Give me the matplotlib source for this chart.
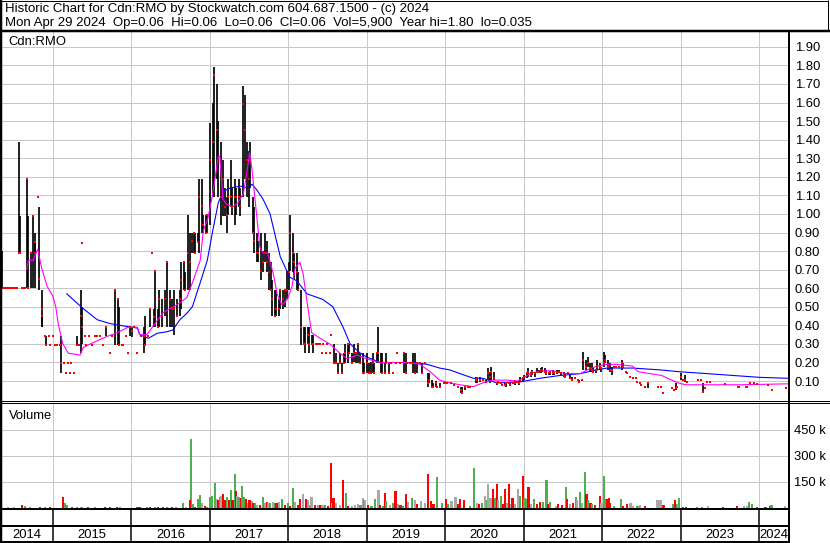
import matplotlib
matplotlib.use('Agg')
from matplotlib import pyplot as plt

plt.rcParams['font.family'] = ['Liberation Sans', 'DejaVu Sans']

# daily bars (decimal year, high, low, close), one line per year
price_t = [
    2014.36, 2014.40, 2014.45, 2014.50, 2014.57, 2014.59, 2014.63, 2014.67, 2014.69, 2014.72, 2014.75, 2014.77, 2014.78, 2014.81, 2014.83, 2014.86, 2014.87, 2014.90, 2014.92, 2014.95, 2014.97, 2014.38, 2014.43, 2014.47, 2014.52, 2014.54, 2014.61, 2014.65,
    2015.00, 2015.03, 2015.06, 2015.09, 2015.11, 2015.14, 2015.17, 2015.19, 2015.22, 2015.24, 2015.27, 2015.31, 2015.34, 2015.36, 2015.37, 2015.38, 2015.41, 2015.43, 2015.46, 2015.50, 2015.54, 2015.57, 2015.60, 2015.64, 2015.68, 2015.73, 2015.76, 2015.80, 2015.83, 2015.85, 2015.88, 2015.90, 2015.93, 2015.96, 2015.98,
    2016.01, 2016.04, 2016.08, 2016.12, 2016.16, 2016.18, 2016.21, 2016.24, 2016.26, 2016.29, 2016.31, 2016.34, 2016.36, 2016.39, 2016.43, 2016.46, 2016.49, 2016.52, 2016.55, 2016.59, 2016.62, 2016.64, 2016.67, 2016.69, 2016.72, 2016.75, 2016.77, 2016.80, 2016.82, 2016.85, 2016.87, 2016.90, 2016.92, 2016.95, 2016.97,
    2017.01, 2017.04, 2017.06, 2017.09, 2017.11, 2017.14, 2017.17, 2017.19, 2017.22, 2017.24, 2017.27, 2017.29, 2017.32, 2017.34, 2017.37, 2017.39, 2017.42, 2017.45, 2017.47, 2017.50, 2017.52, 2017.55, 2017.57, 2017.60, 2017.62, 2017.65, 2017.68, 2017.70, 2017.73, 2017.75, 2017.78, 2017.80, 2017.83, 2017.85, 2017.88, 2017.90, 2017.93, 2017.96, 2017.98,
    2018.01, 2018.03, 2018.06, 2018.08, 2018.11, 2018.13, 2018.17, 2018.20, 2018.22, 2018.25, 2018.27, 2018.30, 2018.32, 2018.35, 2018.38, 2018.40, 2018.43, 2018.45, 2018.48, 2018.50, 2018.53, 2018.55, 2018.58, 2018.61, 2018.63, 2018.66, 2018.68, 2018.71, 2018.73, 2018.76, 2018.78, 2018.81, 2018.84, 2018.86, 2018.89, 2018.91, 2018.95, 2018.97,
    2019.00, 2019.03, 2019.05, 2019.08, 2019.10, 2019.13, 2019.15, 2019.18, 2019.20, 2019.23, 2019.25, 2019.28, 2019.31, 2019.33, 2019.37, 2019.39, 2019.43, 2019.47, 2019.50, 2019.52, 2019.55, 2019.59, 2019.61, 2019.64, 2019.68, 2019.71, 2019.74, 2019.78, 2019.80, 2019.83, 2019.85, 2019.88, 2019.90, 2019.94, 2019.98,
    2020.01, 2020.03, 2020.07, 2020.11, 2020.16, 2020.20, 2020.22, 2020.25, 2020.29, 2020.32, 2020.39, 2020.41, 2020.44, 2020.48, 2020.52, 2020.54, 2020.57, 2020.59, 2020.62, 2020.66, 2020.68, 2020.71, 2020.73, 2020.76, 2020.78, 2020.81, 2020.83, 2020.86, 2020.89, 2020.91, 2020.94, 2020.96, 2020.99,
    2021.01, 2021.04, 2021.06, 2021.09, 2021.11, 2021.14, 2021.17, 2021.19, 2021.22, 2021.24, 2021.27, 2021.29, 2021.32, 2021.34, 2021.37, 2021.39, 2021.42, 2021.45, 2021.47, 2021.51, 2021.53, 2021.56, 2021.59, 2021.61, 2021.65, 2021.69, 2021.71, 2021.74, 2021.76, 2021.79, 2021.82, 2021.84, 2021.87, 2021.89, 2021.92, 2021.94, 2021.97, 2021.99,
    2022.02, 2022.04, 2022.07, 2022.10, 2022.12, 2022.15, 2022.18, 2022.22, 2022.25, 2022.27, 2022.30, 2022.32, 2022.35, 2022.39, 2022.43, 2022.45, 2022.48, 2022.50, 2022.54, 2022.59, 2022.71, 2022.75, 2022.77, 2022.89, 2022.91, 2022.94, 2022.96, 2023.00, 2023.03, 2023.05, 2023.08, 2023.22, 2023.26, 2023.28, 2023.31, 2023.34, 2023.37, 2023.56, 2023.73, 2023.75, 2023.83, 2023.85, 2023.89, 2023.93, 2023.97, 2024.11, 2024.16, 2024.34,
]
price_hi = [
    0.80, 0.60, 0.60, 0.60, 1.39, 0.99, 0.60, 1.19, 0.99, 0.79, 0.99, 0.85, 0.90, 1.09, 1.04, 0.59, 0.45, 0.345, 0.345, 0.345, 0.295, 0.60, 0.60, 0.60, 0.60, 0.60, 0.60, 0.60,
    0.345, 0.295, 0.295, 0.295, 0.345, 0.195, 0.145, 0.195, 0.145, 0.195, 0.145, 0.345, 0.295, 0.59, 0.50, 0.845, 0.345, 0.295, 0.345, 0.295, 0.345, 0.345, 0.345, 0.295, 0.39, 0.25, 0.345, 0.59, 0.54, 0.50, 0.295, 0.295, 0.345, 0.25, 0.39,
    0.39, 0.39, 0.25, 0.345, 0.39, 0.45, 0.345, 0.49, 0.79, 0.49, 0.695, 0.49, 0.59, 0.54, 0.59, 0.743, 0.59, 0.54, 0.59, 0.54, 0.59, 0.743, 0.743, 0.69, 0.995, 0.90, 0.90, 0.90, 0.90, 0.90, 1.19, 1.19, 0.995, 0.995, 0.995,
    1.49, 1.60, 1.79, 1.70, 1.50, 1.39, 1.29, 1.14, 1.09, 1.19, 1.29, 1.14, 1.19, 1.14, 1.19, 1.14, 1.69, 1.64, 1.39, 1.34, 1.39, 1.09, 1.04, 0.90, 0.855, 0.90, 0.80, 0.90, 0.855, 0.79, 0.74, 0.645, 0.59, 0.59, 0.54, 0.59, 0.59, 0.59, 0.695,
    0.74, 0.995, 0.90, 0.79, 0.79, 0.69, 0.59, 0.39, 0.39, 0.39, 0.39, 0.35, 0.35, 0.30, 0.30, 0.30, 0.25, 0.30, 0.25, 0.30, 0.25, 0.35, 0.30, 0.25, 0.195, 0.25, 0.195, 0.25, 0.30, 0.30, 0.30, 0.25, 0.30, 0.25, 0.30, 0.25, 0.25, 0.195,
    0.25, 0.195, 0.20, 0.25, 0.195, 0.25, 0.393, 0.25, 0.25, 0.195, 0.25, 0.195, 0.195, 0.145, 0.195, 0.25, 0.195, 0.25, 0.25, 0.195, 0.195, 0.25, 0.25, 0.195, 0.195, 0.195, 0.195, 0.145, 0.145, 0.106, 0.088, 0.10, 0.07, 0.088, 0.088,
    0.088, 0.088, 0.088, 0.079, 0.07, 0.07, 0.07, 0.07, 0.07, 0.07, 0.123, 0.115, 0.123, 0.106, 0.106, 0.168, 0.15, 0.177, 0.15, 0.097, 0.097, 0.088, 0.079, 0.097, 0.097, 0.088, 0.097, 0.088, 0.106, 0.097, 0.10, 0.123, 0.123,
    0.132, 0.15, 0.168, 0.15, 0.16, 0.15, 0.168, 0.16, 0.168, 0.177, 0.168, 0.16, 0.15, 0.15, 0.16, 0.15, 0.16, 0.16, 0.15, 0.15, 0.141, 0.141, 0.132, 0.123, 0.115, 0.106, 0.106, 0.106, 0.258, 0.213, 0.23, 0.195, 0.195, 0.177, 0.16, 0.213, 0.195, 0.177,
    0.258, 0.24, 0.213, 0.195, 0.177, 0.177, 0.177, 0.177, 0.213, 0.195, 0.15, 0.141, 0.123, 0.115, 0.115, 0.097, 0.088, 0.079, 0.07, 0.088, 0.07, 0.07, 0.034, 0.06, 0.052, 0.088, 0.07, 0.141, 0.106, 0.132, 0.097, 0.106, 0.106, 0.088, 0.06, 0.097, 0.097, 0.085, 0.07, 0.07, 0.07, 0.07, 0.088, 0.088, 0.083, 0.079, 0.052, 0.06,
]
price_lo = [
    0.60, 0.60, 0.60, 0.60, 0.79, 0.79, 0.60, 0.60, 0.60, 0.60, 0.60, 0.79, 0.60, 1.09, 0.59, 0.39, 0.39, 0.345, 0.295, 0.345, 0.295, 0.60, 0.60, 0.60, 0.60, 0.60, 0.60, 0.60,
    0.345, 0.295, 0.295, 0.295, 0.145, 0.195, 0.145, 0.195, 0.145, 0.195, 0.145, 0.295, 0.295, 0.25, 0.30, 0.845, 0.345, 0.295, 0.345, 0.295, 0.345, 0.345, 0.345, 0.295, 0.345, 0.25, 0.345, 0.295, 0.295, 0.295, 0.295, 0.295, 0.345, 0.25, 0.345,
    0.34, 0.39, 0.25, 0.345, 0.25, 0.295, 0.345, 0.39, 0.79, 0.39, 0.39, 0.39, 0.39, 0.39, 0.45, 0.39, 0.39, 0.39, 0.35, 0.45, 0.45, 0.49, 0.59, 0.59, 0.59, 0.59, 0.79, 0.79, 0.79, 0.85, 0.79, 0.90, 0.90, 0.90, 0.90,
    0.94, 1.09, 1.09, 1.19, 1.09, 0.94, 0.99, 0.99, 0.90, 0.995, 1.04, 0.995, 0.94, 0.995, 1.04, 0.99, 1.09, 1.19, 1.09, 1.04, 1.14, 0.90, 0.79, 0.74, 0.74, 0.645, 0.69, 0.74, 0.69, 0.59, 0.59, 0.45, 0.45, 0.45, 0.45, 0.49, 0.49, 0.50, 0.54,
    0.59, 0.695, 0.69, 0.645, 0.59, 0.59, 0.295, 0.30, 0.25, 0.30, 0.25, 0.30, 0.25, 0.30, 0.30, 0.30, 0.25, 0.30, 0.25, 0.30, 0.25, 0.35, 0.195, 0.195, 0.145, 0.195, 0.145, 0.195, 0.195, 0.195, 0.25, 0.195, 0.20, 0.195, 0.195, 0.195, 0.145, 0.145,
    0.145, 0.145, 0.145, 0.145, 0.145, 0.195, 0.195, 0.145, 0.145, 0.145, 0.195, 0.145, 0.195, 0.145, 0.195, 0.25, 0.195, 0.145, 0.145, 0.195, 0.195, 0.145, 0.145, 0.145, 0.195, 0.145, 0.195, 0.07, 0.088, 0.07, 0.07, 0.07, 0.07, 0.07, 0.088,
    0.088, 0.088, 0.088, 0.079, 0.07, 0.034, 0.034, 0.05, 0.07, 0.07, 0.088, 0.088, 0.097, 0.106, 0.088, 0.106, 0.088, 0.106, 0.106, 0.079, 0.097, 0.088, 0.079, 0.079, 0.07, 0.088, 0.079, 0.088, 0.079, 0.097, 0.079, 0.097, 0.097,
    0.106, 0.115, 0.123, 0.123, 0.132, 0.123, 0.141, 0.141, 0.141, 0.15, 0.141, 0.132, 0.132, 0.132, 0.132, 0.132, 0.14, 0.141, 0.132, 0.123, 0.123, 0.141, 0.115, 0.106, 0.115, 0.106, 0.097, 0.106, 0.16, 0.16, 0.177, 0.15, 0.15, 0.141, 0.141, 0.16, 0.16, 0.15,
    0.177, 0.195, 0.16, 0.15, 0.132, 0.177, 0.177, 0.177, 0.16, 0.168, 0.15, 0.141, 0.123, 0.115, 0.115, 0.097, 0.088, 0.079, 0.07, 0.06, 0.07, 0.07, 0.034, 0.06, 0.052, 0.052, 0.07, 0.106, 0.106, 0.097, 0.097, 0.106, 0.106, 0.034, 0.06, 0.097, 0.097, 0.085, 0.07, 0.07, 0.07, 0.07, 0.088, 0.088, 0.083, 0.079, 0.052, 0.06,
]
price_cl = [
    0.60, 0.60, 0.60, 0.60, 0.79, 0.79, 0.60, 1.19, 0.60, 0.79, 0.99, 0.85, 0.79, 1.09, 0.65, 0.49, 0.45, 0.345, 0.295, 0.345, 0.295, 0.60, 0.60, 0.60, 0.60, 0.60, 0.60, 0.60,
    0.345, 0.295, 0.295, 0.295, 0.195, 0.195, 0.145, 0.195, 0.145, 0.195, 0.145, 0.295, 0.295, 0.45, 0.39, 0.845, 0.345, 0.295, 0.345, 0.295, 0.345, 0.345, 0.345, 0.295, 0.39, 0.25, 0.345, 0.59, 0.54, 0.295, 0.295, 0.295, 0.345, 0.25, 0.39,
    0.37, 0.39, 0.25, 0.345, 0.345, 0.295, 0.345, 0.49, 0.79, 0.447, 0.695, 0.39, 0.54, 0.45, 0.54, 0.743, 0.54, 0.49, 0.49, 0.45, 0.54, 0.645, 0.743, 0.59, 0.79, 0.743, 0.855, 0.90, 0.79, 0.85, 1.09, 1.045, 0.94, 0.90, 0.995,
    1.29, 1.39, 1.75, 1.45, 1.29, 1.09, 1.19, 1.04, 0.995, 1.09, 1.09, 1.04, 1.09, 1.09, 1.09, 1.045, 1.59, 1.45, 1.29, 1.19, 1.29, 0.90, 0.855, 0.79, 0.79, 0.695, 0.74, 0.79, 0.74, 0.69, 0.59, 0.54, 0.45, 0.49, 0.49, 0.59, 0.54, 0.59, 0.59,
    0.69, 0.90, 0.79, 0.74, 0.69, 0.59, 0.39, 0.30, 0.30, 0.35, 0.30, 0.30, 0.30, 0.30, 0.30, 0.30, 0.25, 0.30, 0.25, 0.30, 0.25, 0.35, 0.195, 0.195, 0.145, 0.195, 0.145, 0.195, 0.25, 0.30, 0.25, 0.195, 0.25, 0.25, 0.30, 0.195, 0.145, 0.145,
    0.195, 0.145, 0.145, 0.195, 0.145, 0.25, 0.25, 0.195, 0.145, 0.145, 0.195, 0.145, 0.195, 0.145, 0.195, 0.25, 0.195, 0.25, 0.145, 0.195, 0.195, 0.195, 0.145, 0.195, 0.195, 0.145, 0.195, 0.088, 0.106, 0.07, 0.07, 0.088, 0.07, 0.07, 0.088,
    0.088, 0.088, 0.088, 0.079, 0.07, 0.052, 0.034, 0.07, 0.07, 0.07, 0.106, 0.115, 0.106, 0.106, 0.097, 0.141, 0.123, 0.15, 0.115, 0.088, 0.097, 0.088, 0.079, 0.079, 0.088, 0.088, 0.079, 0.088, 0.088, 0.097, 0.088, 0.106, 0.115,
    0.123, 0.141, 0.15, 0.132, 0.15, 0.141, 0.15, 0.15, 0.16, 0.16, 0.15, 0.141, 0.141, 0.15, 0.141, 0.141, 0.15, 0.15, 0.141, 0.132, 0.123, 0.141, 0.115, 0.106, 0.115, 0.106, 0.097, 0.106, 0.213, 0.177, 0.195, 0.168, 0.16, 0.15, 0.16, 0.177, 0.177, 0.168,
    0.195, 0.213, 0.177, 0.16, 0.16, 0.177, 0.177, 0.177, 0.195, 0.177, 0.15, 0.141, 0.123, 0.115, 0.115, 0.097, 0.088, 0.079, 0.07, 0.088, 0.07, 0.07, 0.034, 0.06, 0.052, 0.06, 0.07, 0.123, 0.106, 0.106, 0.097, 0.106, 0.106, 0.043, 0.06, 0.097, 0.097, 0.085, 0.07, 0.07, 0.07, 0.07, 0.088, 0.088, 0.083, 0.079, 0.052, 0.06,
]

# moving averages
short_ma_t = [2014.67, 2014.69, 2014.75, 2014.81, 2014.86, 2014.93, 2015.00, 2015.04, 2015.07, 2015.13, 2015.20, 2015.35, 2015.39, 2015.48,
              2015.69, 2015.82, 2015.96, 2016.08, 2016.11, 2016.20, 2016.27, 2016.41, 2016.58, 2016.71, 2016.79, 2016.88, 2016.92, 2016.98,
              2017.04, 2017.11, 2017.13, 2017.17, 2017.22, 2017.30, 2017.36, 2017.43, 2017.48, 2017.51, 2017.54, 2017.57, 2017.60, 2017.64,
              2017.68, 2017.74, 2017.81, 2017.86, 2017.92, 2017.99, 2018.05, 2018.09, 2018.15, 2018.19, 2018.25, 2018.30, 2018.41, 2018.53,
              2018.66, 2018.75, 2018.88, 2019.00, 2019.17, 2019.30, 2019.51, 2019.68, 2019.81, 2019.93, 2020.06, 2020.19, 2020.36, 2020.48,
              2020.61, 2020.79, 2020.92, 2020.99, 2021.08, 2021.21, 2021.37, 2021.55, 2021.72, 2021.81, 2021.93, 2022.06, 2022.19, 2022.39,
              2022.46, 2022.61, 2022.76, 2022.86, 2022.97, 2023.06, 2023.76, 2024.36]
short_ma = [0.70, 0.75, 0.75, 0.81, 0.71, 0.61, 0.56, 0.50, 0.41, 0.30, 0.25, 0.24, 0.28, 0.30,
            0.34, 0.36, 0.39, 0.39, 0.35, 0.35, 0.39, 0.47, 0.51, 0.55, 0.64, 0.75, 0.91, 0.98,
            1.11, 1.31, 1.31, 1.08, 1.05, 1.04, 1.06, 1.11, 1.24, 1.33, 1.24, 1.11, 0.99, 0.82,
            0.79, 0.79, 0.68, 0.57, 0.51, 0.54, 0.61, 0.71, 0.74, 0.68, 0.50, 0.36, 0.33, 0.30,
            0.25, 0.22, 0.24, 0.22, 0.20, 0.20, 0.20, 0.19, 0.15, 0.105, 0.09, 0.08, 0.07, 0.09,
            0.105, 0.105, 0.10, 0.115, 0.14, 0.155, 0.155, 0.14, 0.14, 0.16, 0.18, 0.19, 0.19, 0.18,
            0.15, 0.14, 0.13, 0.11, 0.09, 0.08, 0.08, 0.085]
long_ma_t = [2015.18, 2015.39, 2015.57, 2015.73, 2015.86, 2016.08, 2016.11, 2016.22, 2016.33, 2016.46, 2016.53, 2016.62, 2016.71,
             2016.78, 2016.88, 2016.97, 2017.04, 2017.11, 2017.17, 2017.26, 2017.39, 2017.49, 2017.54, 2017.60, 2017.68, 2017.77,
             2017.86, 2017.90, 2018.02, 2018.11, 2018.24, 2018.44, 2018.57, 2018.70, 2018.79, 2018.92, 2019.00, 2019.17, 2019.59,
             2019.77, 2019.93, 2020.06, 2020.19, 2020.36, 2020.48, 2020.66, 2020.95, 2021.21, 2021.46, 2021.72, 2021.93, 2022.06,
             2022.39, 2022.74, 2022.99, 2023.34, 2023.67, 2024.01, 2024.36]
long_ma = [0.57, 0.49, 0.43, 0.41, 0.40, 0.385, 0.35, 0.33, 0.357, 0.366, 0.375, 0.43, 0.465,
           0.50, 0.63, 0.75, 0.91, 1.06, 1.12, 1.14, 1.15, 1.14, 1.16, 1.13, 1.08, 1.00,
           0.84, 0.77, 0.66, 0.64, 0.57, 0.54, 0.50, 0.39, 0.30, 0.25, 0.23, 0.20, 0.20,
           0.19, 0.17, 0.16, 0.14, 0.115, 0.115, 0.09, 0.095, 0.115, 0.13, 0.14, 0.16, 0.17,
           0.17, 0.16, 0.15, 0.14, 0.13, 0.12, 0.115]

# volume in thousands, colour code g = up, r = down, n = unchanged
vol_t = [
    2014.43, 2014.51, 2014.61, 2014.65, 2014.71, 2014.84, 2014.90, 2014.97, 2015.13, 2015.16, 2015.18, 2015.25, 2015.31, 2015.37, 2015.45, 2015.54, 2015.67, 2015.73, 2015.82, 2015.86,
    2016.08, 2016.11, 2016.20, 2016.24, 2016.30, 2016.34, 2016.41, 2016.46, 2016.52, 2016.57, 2016.66, 2016.70, 2016.76, 2016.75, 2016.79, 2016.81, 2016.86, 2016.88, 2016.90, 2016.94, 2016.97,
    2017.01, 2017.03, 2017.07, 2017.09, 2017.11, 2017.13, 2017.15, 2017.17, 2017.20, 2017.22, 2017.23, 2017.25, 2017.27, 2017.29, 2017.32, 2017.34, 2017.35, 2017.37, 2017.40, 2017.41,
    2017.43, 2017.46, 2017.49, 2017.51, 2017.54, 2017.55, 2017.58, 2017.60, 2017.64, 2017.68, 2017.71, 2017.73, 2017.74, 2017.77, 2017.81, 2017.83, 2017.85, 2017.88, 2017.92, 2017.96,
    2018.00, 2018.02, 2018.06, 2018.09, 2018.13, 2018.15, 2018.19, 2018.23, 2018.25, 2018.28, 2018.30, 2018.34, 2018.38, 2018.41, 2018.44, 2018.47, 2018.51, 2018.55, 2018.56, 2018.58,
    2018.61, 2018.66, 2018.70, 2018.74, 2018.76, 2018.81, 2018.85, 2018.89, 2018.92, 2018.95, 2018.97, 2018.98,
    2019.02, 2019.06, 2019.11, 2019.15, 2019.17, 2019.21, 2019.23, 2019.25, 2019.30, 2019.34, 2019.37, 2019.40, 2019.43, 2019.46, 2019.50, 2019.53, 2019.58, 2019.62, 2019.64, 2019.69,
    2019.74, 2019.78, 2019.82, 2019.85, 2019.90, 2019.96,
    2020.01, 2020.04, 2020.08, 2020.13, 2020.16, 2020.19, 2020.24, 2020.32, 2020.37, 2020.41, 2020.43, 2020.47, 2020.51, 2020.53, 2020.55, 2020.58, 2020.61, 2020.64, 2020.66, 2020.67,
    2020.71, 2020.74, 2020.76, 2020.79, 2020.81, 2020.84, 2020.86, 2020.89, 2020.93, 2020.95, 2020.99,
    2021.01, 2021.04, 2021.06, 2021.09, 2021.13, 2021.17, 2021.21, 2021.25, 2021.29, 2021.31, 2021.34, 2021.41, 2021.44, 2021.49, 2021.54, 2021.55, 2021.59, 2021.63, 2021.67, 2021.68,
    2021.72, 2021.74, 2021.78, 2021.80, 2021.82, 2021.85, 2021.87, 2021.91, 2021.97, 2021.99,
    2022.02, 2022.03, 2022.06, 2022.09, 2022.10, 2022.15, 2022.24, 2022.27, 2022.32, 2022.36, 2022.39, 2022.45, 2022.48, 2022.55, 2022.70, 2022.73, 2022.75, 2022.78, 2022.90, 2022.93,
    2022.95, 2022.97, 2022.98, 2023.03, 2023.07, 2023.21, 2023.27, 2023.35, 2023.54, 2023.72, 2023.81, 2023.85, 2023.87, 2023.91, 2023.97, 2024.08, 2024.14, 2024.16, 2024.33,
]
vol_k = [
    3, 4, 17, 12, 5, 4, 3, 3, 62, 26, 18, 5, 5, 6, 4, 3, 5, 5, 6, 4,
    4, 5, 4, 5, 6, 8, 5, 8, 4, 5, 30, 8, 397, 44, 23, 5, 53, 76, 26, 9, 4,
    65, 71, 146, 51, 44, 62, 71, 83, 46, 62, 44, 44, 106, 44, 194, 97, 71, 62, 58, 127,
    65, 53, 30, 44, 39, 26, 26, 18, 20, 62, 26, 35, 26, 30, 35, 30, 26, 35, 53, 18,
    26, 9, 115, 35, 18, 53, 80, 53, 44, 18, 62, 18, 18, 18, 15, 18, 10, 261, 26, 58,
    26, 18, 159, 88, 9, 10, 18, 22, 20, 58, 44, 46,
    18, 9, 53, 106, 18, 10, 85, 39, 18, 26, 97, 23, 18, 10, 80, 35, 55, 47, 21, 38,
    29, 197, 41, 21, 181, 29,
    50, 21, 38, 64, 21, 50, 47, 12, 233, 29, 21, 29, 67, 47, 138, 60, 112, 55, 141, 47,
    72, 21, 107, 29, 138, 21, 55, 21, 107, 67, 184,
    60, 50, 121, 21, 50, 21, 33, 33, 159, 21, 33, 12, 21, 16, 124, 50, 21, 29, 64, 47,
    93, 29, 207, 81, 47, 29, 21, 16, 67, 29,
    184, 50, 50, 55, 29, 12, 52, 12, 21, 26, 12, 9, 16, 10, 47, 47, 47, 16, 21, 47,
    21, 21, 60, 5, 5, 3, 5, 9, 5, 9, 9, 12, 35, 21, 3, 3, 9, 16, 9,
]
vol_c = [
    'n', 'n', 'r', 'g', 'g', 'r', 'g', 'r', 'r', 'g', 'g', 'r', 'g', 'g', 'r', 'g', 'r', 'r', 'r', 'g',
    'r', 'r', 'g', 'r', 'g', 'r', 'r', 'g', 'r', 'g', 'g', 'n', 'g', 'r', 'g', 'r', 'g', 'g', 'n', 'r', 'g',
    'g', 'g', 'g', 'n', 'r', 'g', 'n', 'r', 'r', 'g', 'n', 'r', 'g', 'r', 'g', 'r', 'n', 'g', 'r', 'g',
    'g', 'r', 'n', 'r', 'n', 'r', 'g', 'n', 'r', 'g', 'n', 'r', 'n', 'g', 'n', 'g', 'r', 'n', 'g', 'r',
    'g', 'r', 'g', 'n', 'r', 'r', 'n', 'r', 'n', 'g', 'n', 'r', 'n', 'r', 'n', 'g', 'r', 'r', 'n', 'r',
    'n', 'n', 'r', 'g', 'r', 'n', 'n', 'n', 'g', 'n', 'g', 'n',
    'r', 'g', 'g', 'n', 'r', 'g', 'r', 'g', 'n', 'g', 'r', 'n', 'r', 'g', 'r', 'n', 'g', 'n', 'r', 'n',
    'n', 'r', 'r', 'r', 'g', 'g',
    'r', 'g', 'n', 'n', 'r', 'r', 'r', 'g', 'g', 'n', 'r', 'g', 'n', 'g', 'n', 'n', 'r', 'g', 'r', 'n',
    'g', 'r', 'r', 'n', 'r', 'n', 'r', 'n', 'n', 'g', 'r',
    'g', 'g', 'r', 'n', 'g', 'r', 'r', 'g', 'g', 'r', 'g', 'n', 'r', 'r', 'g', 'r', 'n', 'r', 'g', 'n',
    'g', 'n', 'g', 'r', 'g', 'r', 'g', 'r', 'r', 'n',
    'g', 'g', 'r', 'r', 'r', 'g', 'g', 'r', 'r', 'n', 'n', 'g', 'n', 'r', 'n', 'n', 'n', 'r', 'g', 'r',
    'g', 'n', 'g', 'r', 'r', 'g', 'g', 'n', 'r', 'r', 'n', 'n', 'g', 'g', 'r', 'r', 'r', 'g', 'n',
]

years = list(range(2014, 2025))
price_levels = [round(0.1 * i, 2) for i in range(1, 20)]
vol_levels = [150, 300, 450]

header_1 = 'Historic Chart for Cdn:RMO by Stockwatch.com 604.687.1500 - (c) 2024'
header_2 = 'Mon Apr 29 2024  Op=0.06  Hi=0.06  Lo=0.06  Cl=0.06  Vol=5,900  Year hi=1.80  lo=0.035'

W, H = 830, 543
X_RANGE = (2014.355, 2024.368)
GRID = '#c8c8c8'
PX = 0.72  # one pixel in points


def box(x0, y0, x1, y1):
    return [x0 / W, 1 - y1 / H, (x1 - x0) / W, (y1 - y0) / H]


def main():
    for arr in (price_hi, price_lo, price_cl):
        assert len(arr) == len(price_t)
    assert len(vol_k) == len(vol_t) == len(vol_c)
    assert len(short_ma) == len(short_ma_t) and len(long_ma) == len(long_ma_t)

    fig = plt.figure(figsize=(W / 100, H / 100), dpi=100)
    fig.patch.set_facecolor('white')

    # price panel
    ax = fig.add_axes(box(2, 32, 788, 400))
    ax.set_xlim(*X_RANGE)
    ax.set_ylim(-0.002, 1.98)
    ax.set_axisbelow(True)
    ax.set_xticks(years[1:])
    ax.set_xticklabels([])
    ax.yaxis.tick_right()
    ax.set_yticks(price_levels)
    ax.set_yticklabels(['%.2f' % v for v in price_levels])
    ax.tick_params(axis='both', length=0)
    ax.tick_params(axis='y', pad=5, labelsize=9.4)
    ax.grid(True, color=GRID, lw=PX)
    for s in ax.spines.values():
        s.set_visible(False)

    ax.vlines(price_t, price_lo, price_hi, color='black', lw=1.7 * PX, zorder=2)
    ax.plot(long_ma_t, long_ma, color='#0000ff', lw=1.1 * PX, zorder=3)
    ax.plot(short_ma_t, short_ma, color='#ff00ff', lw=1.1 * PX, zorder=3)
    ax.plot(price_t, price_cl, ls='none', marker='s', ms=1.9, mfc='#ff0000', mec='#ff0000', mew=0, zorder=4)
    ax.text(0.008, 0.973, 'Cdn:RMO', transform=ax.transAxes, fontsize=9.4, va='center')

    # volume panel
    av = fig.add_axes(box(2, 402, 788, 508))
    av.set_xlim(*X_RANGE)
    av.set_ylim(0, 106 / 26 * 150)
    av.set_axisbelow(True)
    av.set_xticks(years[1:])
    av.set_xticklabels([])
    av.yaxis.tick_right()
    av.set_yticks(vol_levels)
    av.set_yticklabels(['%d k' % v for v in vol_levels])
    av.tick_params(axis='both', length=0)
    av.tick_params(axis='y', pad=4, labelsize=9.4)
    av.grid(True, color=GRID, lw=PX)
    for s in av.spines.values():
        s.set_visible(False)
    colors = {'g': '#4cb04c', 'r': '#ff0000', 'n': '#a8a8a8'}
    av.bar(vol_t, vol_k, width=0.03, color=[colors[c] for c in vol_c], lw=0, zorder=2)
    av.text(0.009, 0.87, 'Volume', transform=av.transAxes, fontsize=9.4, va='center')

    # year strip
    st = fig.add_axes(box(2, 509, 788, 542))
    st.set_xlim(*X_RANGE)
    st.set_ylim(542, 509)
    st.axis('off')
    for y in years[1:]:
        st.axvline(y, color='black', lw=1.5 * PX)
    for y in years:
        lo = max(y, X_RANGE[0])
        hi = min(y + 1, X_RANGE[1])
        st.text((lo + hi) / 2, 534.5, str(y), ha='center', va='center', fontsize=9.4)

    # header and frame lines
    fig.text(5 / W, 1 - 9 / H, header_1, fontsize=9.5, va='center')
    fig.text(5 / W, 1 - 23 / H, header_2, fontsize=9.5, va='center')

    fr = fig.add_axes([0, 0, 1, 1], facecolor='none', zorder=10)
    fr.set_xlim(0, W)
    fr.set_ylim(H, 0)
    fr.axis('off')
    lines = [
        ((1, 1), (0, H), 2.5),
        ((0, 828), (0.5, 0.5), 1),
        ((827.5, 827.5), (0, 31), 1),
        ((0, W), (30.5, 30.5), 2.5),
        ((789, 789), (31, H), 2),
        ((0, W), (400.5, 400.5), 1),
        ((0, W), (402.5, 402.5), 1),
        ((0, 789), (509, 509), 2),
        ((0, 789), (526, 526), 2),
        ((0, 789), (541.5, 541.5), 2),
    ]
    for xs, ys, w in lines:
        fr.plot(xs, ys, color='black', lw=w * PX, solid_capstyle='butt')

    fig.savefig('out.png', dpi=100)


if __name__ == '__main__':
    main()
